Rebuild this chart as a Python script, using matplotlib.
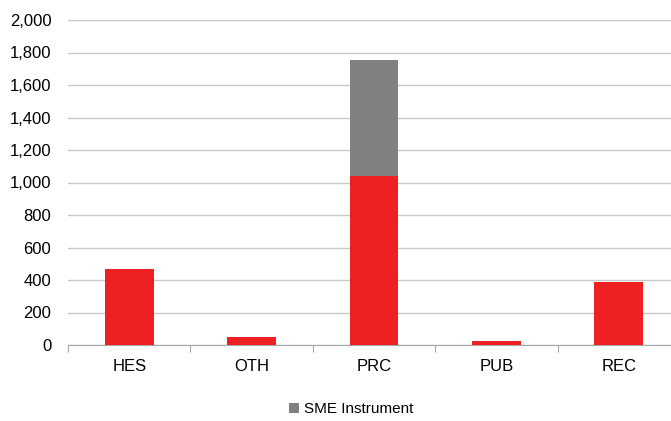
import numpy as np
import matplotlib.pyplot as plt
from matplotlib.ticker import FuncFormatter

plt.rcParams["font.family"] = ["Liberation Sans", "DejaVu Sans"]

categories = ["HES", "OTH", "PRC", "PUB", "REC"]
base_values = [468, 48, 1042, 26, 385]
sme_values = [0, 0, 710, 0, 0]

RED = "#ED2024"
GREY = "#808080"

fig = plt.figure(figsize=(6.71, 4.21), dpi=100)
ax = fig.add_axes([68 / 671, 1 - 345 / 421, 612 / 671, 325 / 421])

x = np.arange(len(categories))
ax.bar(x, base_values, width=0.4, color=RED, zorder=3)
ax.bar(x, sme_values, width=0.4, bottom=base_values, color=GREY, zorder=3,
       label="SME Instrument")

ax.set_xlim(-0.5, len(categories) - 0.5)
ax.set_ylim(0, 2000)
ax.set_yticks(np.arange(0, 2001, 200))
ax.yaxis.set_major_formatter(FuncFormatter(lambda v, _: f"{v:,.0f}"))
ax.tick_params(axis="y", length=0, pad=12, labelsize=12)
ax.grid(axis="y", color="#c8c8c8", linewidth=1, zorder=0)

ax.set_xticks(np.arange(-0.5, len(categories), 1.0))
ax.set_xticklabels([])
ax.set_xticks(x, minor=True)
ax.set_xticklabels(categories, minor=True, fontsize=12)
ax.tick_params(axis="x", which="major", length=5, color="#a6a6a6", direction="out")
ax.tick_params(axis="x", which="minor", length=0, pad=10)

for s in ["top", "right", "left"]:
    ax.spines[s].set_visible(False)
ax.spines["bottom"].set_color("#a6a6a6")

fig.legend(loc="center", bbox_to_anchor=(0.523, 0.028), frameon=False,
           fontsize=11, handlelength=0.7, handleheight=0.7, handletextpad=0.3)

fig.savefig("out.png", dpi=100, facecolor="white")
